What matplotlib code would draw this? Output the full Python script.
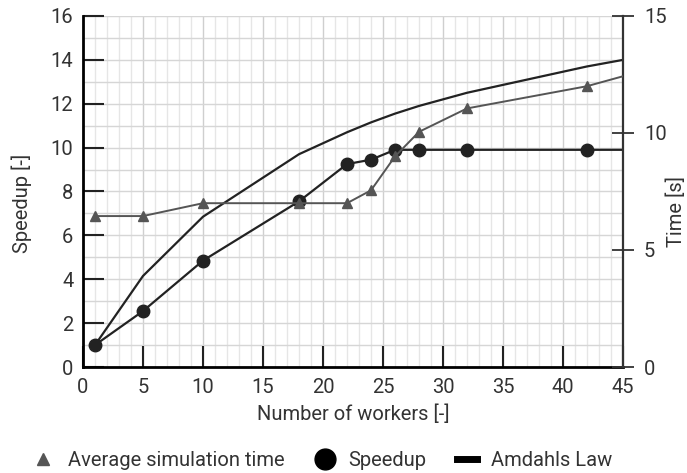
import matplotlib.pyplot as plt
import numpy as np
from matplotlib.lines import Line2D

plt.rcParams['font.family'] = ['Roboto', 'DejaVu Sans']

# workers for measured series (48 lies past the axis, only the line reaches the edge)
workers = [1, 5, 10, 18, 22, 24, 26, 28, 32, 42, 48]
speedup = [1.0, 2.55, 4.85, 7.55, 9.25, 9.45, 9.9, 9.9, 9.9, 9.9, 9.9]
avg_time = [6.45, 6.45, 7.0, 7.0, 7.0, 7.55, 9.0, 10.05, 11.05, 12.0, 12.85]

amdahl_workers = [1, 5, 10, 18, 22, 24, 26, 28, 32, 42, 45]
amdahl = [1.0, 4.15, 6.85, 9.7, 10.7, 11.15, 11.55, 11.9, 12.5, 13.7, 14.0]

txt = '#333333'
fs = 14.5

fig = plt.figure(figsize=(6.87, 4.73), dpi=100)
ax = fig.add_axes([0.1208, 0.2241, 0.7861, 0.7421])
ax2 = ax.twinx()

# grid
for x in range(1, 46):
    ax.axvline(x, color='#cfcfcf' if x % 5 == 0 else '#e6e6e6', lw=1.0, zorder=0)
for y in range(1, 17):
    ax.axhline(y, color='#d6d6d6', lw=1.0, zorder=0)

ax.plot(amdahl_workers, amdahl, color='#222222', lw=1.6, zorder=3)
ax.plot(workers, speedup, color='#222222', lw=1.6, marker='o', ms=9, zorder=4)
ax2.plot(workers, avg_time, color='#555555', lw=1.4, marker='^', ms=7.5, zorder=3)

ax.set_xlim(0, 45)
ax.set_ylim(0, 16)
ax2.set_ylim(0, 15)
ax.set_xticks(np.arange(0, 46, 5))
ax.set_yticks(np.arange(0, 17, 2))
ax2.set_yticks([0, 5, 10, 15])

ax.tick_params(axis='both', direction='in', length=15, width=1.5, colors='#222222',
               labelcolor=txt, labelsize=fs, pad=7)
ax.tick_params(axis='x', pad=8)
ax2.tick_params(axis='y', direction='inout', length=16, width=1.3, colors='#333333',
                labelcolor=txt, labelsize=fs, pad=7)

for s in ['top']:
    ax.spines[s].set_visible(False)
    ax2.spines[s].set_visible(False)
ax2.spines['left'].set_visible(False)
ax2.spines['bottom'].set_visible(False)
ax.spines['right'].set_visible(False)
ax.spines['left'].set_linewidth(2)
ax.spines['bottom'].set_linewidth(2)
ax2.spines['right'].set_linewidth(1.6)
ax2.spines['right'].set_color('#333333')

ax.set_xlabel('Number of workers [-]', fontsize=fs, color=txt, labelpad=5)
fig.text(0.032, 0.569, 'Speedup [-]', rotation=90, ha='center', va='center',
         fontsize=fs, color=txt)
fig.text(0.9845, 0.552, 'Time [s]', rotation=90, ha='center', va='center',
         fontsize=fs, color=txt)

handles = [
    Line2D([], [], ls='none', marker='^', ms=9, color='#555555'),
    Line2D([], [], ls='none', marker='o', ms=15, color='black'),
    Line2D([], [], color='black', lw=5),
]
labels = ['Average simulation time', 'Speedup', 'Amdahls Law']
fig.legend(handles, labels, loc='lower center', ncol=3, frameon=False,
           bbox_to_anchor=(0.47, -0.032), fontsize=fs, labelcolor=txt,
           handlelength=1.0, handletextpad=0.7, columnspacing=1.5)

fig.savefig('out.png', dpi=100)
